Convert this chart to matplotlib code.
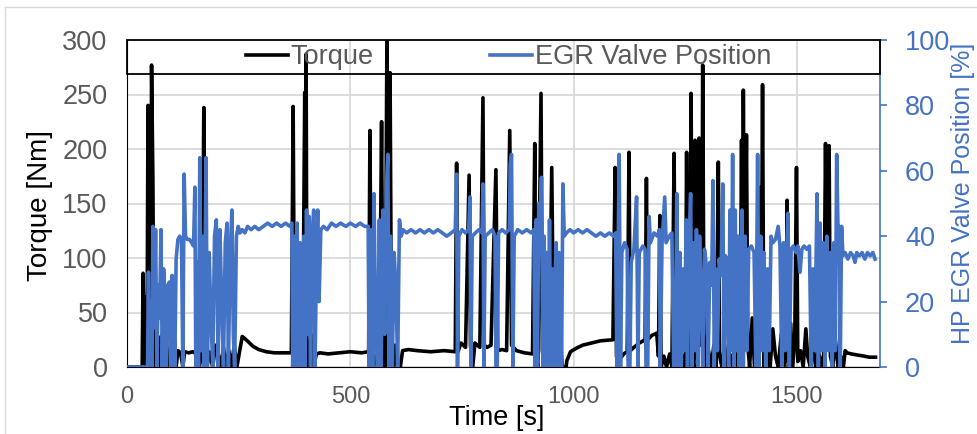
import matplotlib
matplotlib.use('Agg')
from matplotlib import pyplot as plt
from matplotlib.lines import Line2D
from matplotlib.patches import Rectangle

plt.rcParams['font.family'] = ['Liberation Sans', 'DejaVu Sans']

# Torque [Nm] as (time [s], value) points
torque_points = [
    (0, 0), (34, 0), (36, 86), (38, 20), (40, 64), (42, 0), (45, 30), (47, 240), (50, 10), (53, 40),
    (55, 277), (58, 170), (60, 25), (64, 0), (67, 30), (70, 12), (73, 0), (76, 28), (80, 15), (84, 0),
    (88, 22), (92, 10), (96, 0), (100, 18), (105, 8), (110, 0), (114, 15), (120, 13), (125, 0), (129, 14),
    (138, 13), (147, 14), (156, 12), (162, 0), (168, 15), (172, 238), (175, 10), (179, 0), (184, 14), (192, 0),
    (198, 20), (204, 12), (210, 0), (216, 18), (222, 0), (228, 15), (234, 0), (240, 20), (246, 0), (252, 14),
    (258, 28), (264, 26), (272, 23), (282, 19), (295, 16), (312, 14), (330, 13), (350, 13), (368, 13), (372, 239),
    (375, 12), (379, 0), (384, 10), (389, 0), (394, 40), (398, 252), (400, 0), (401, 287), (403, 15), (407, 0),
    (412, 30), (418, 0), (424, 12), (432, 13), (450, 12), (475, 13), (500, 14), (525, 13), (541, 14), (544, 217),
    (547, 10), (552, 0), (558, 12), (565, 0), (570, 225), (573, 10), (578, 0), (582, 305), (585, 60), (589, 270),
    (592, 40), (596, 0), (600, 20), (605, 0), (612, 0), (617, 15), (630, 16), (650, 15), (680, 14), (710, 15),
    (735, 14), (738, 187), (741, 14), (748, 22), (758, 18), (766, 176), (769, 20), (774, 0), (779, 22), (790, 18),
    (797, 247), (800, 20), (806, 18), (815, 20), (826, 181), (830, 15), (840, 16), (850, 15), (857, 217), (861, 20),
    (872, 15), (890, 13), (908, 12), (913, 205), (916, 10), (920, 0), (927, 251), (930, 15), (935, 0), (942, 30),
    (945, 0), (951, 183), (955, 30), (958, 50), (962, 40), (966, 0), (970, 20), (975, 0), (983, 0), (985, 6),
    (993, 14), (1005, 17), (1020, 20), (1040, 22), (1060, 24), (1088, 25), (1093, 183), (1096, 10), (1100, 0), (1105, 8),
    (1112, 12), (1120, 14), (1124, 197), (1127, 15), (1135, 18), (1147, 22), (1160, 25), (1163, 173), (1166, 25), (1175, 29),
    (1186, 31), (1190, 10), (1193, 139), (1196, 0), (1202, 10), (1208, 0), (1215, 12), (1220, 0), (1225, 196), (1228, 0),
    (1234, 20), (1239, 0), (1245, 10), (1250, 0), (1253, 197), (1256, 20), (1260, 0), (1263, 251), (1266, 10), (1269, 0),
    (1272, 208), (1275, 30), (1278, 0), (1281, 210), (1284, 20), (1287, 40), (1289, 277), (1292, 30), (1296, 0), (1302, 15),
    (1308, 0), (1314, 20), (1319, 0), (1324, 188), (1327, 10), (1332, 0), (1338, 20), (1344, 0), (1350, 12), (1356, 0),
    (1362, 25), (1368, 0), (1373, 15), (1376, 208), (1378, 30), (1380, 254), (1383, 40), (1387, 213), (1390, 20), (1394, 0),
    (1400, 45), (1405, 0), (1411, 20), (1417, 165), (1420, 20), (1423, 259), (1426, 0), (1432, 50), (1436, 10), (1440, 0),
    (1446, 35), (1452, 10), (1458, 0), (1465, 30), (1470, 0), (1475, 10), (1478, 153), (1481, 0), (1486, 40), (1490, 0),
    (1495, 20), (1499, 183), (1502, 5), (1508, 15), (1514, 0), (1520, 35), (1524, 10), (1530, 0), (1536, 20), (1542, 0),
    (1548, 15), (1554, 0), (1560, 12), (1564, 205), (1568, 30), (1572, 203), (1575, 10), (1580, 0), (1586, 25), (1592, 0),
    (1598, 10), (1604, 0), (1608, 15), (1612, 13), (1622, 12), (1635, 11), (1650, 10), (1662, 9), (1676, 9),
]

# HP EGR valve position [%] as (time [s], value) points
egr_points = [
    (0, 0), (46, 0), (48, 29), (50, 0), (53, 20), (56, 0), (58, 43), (61, 12), (64, 42), (67, 0),
    (70, 25), (73, 15), (76, 42), (79, 0), (82, 30), (85, 20), (88, 0), (91, 25), (95, 26), (98, 0),
    (101, 28), (104, 20), (107, 0), (110, 33), (114, 39), (118, 40), (122, 39), (125, 0), (128, 59), (131, 40),
    (135, 39), (140, 39), (145, 38), (149, 37), (152, 55), (154, 0), (157, 32), (160, 0), (163, 64), (166, 5),
    (169, 40), (172, 0), (175, 35), (177, 64), (180, 0), (184, 35), (188, 15), (192, 0), (196, 40), (200, 45),
    (204, 0), (208, 42), (212, 20), (216, 0), (220, 38), (224, 44), (227, 0), (231, 35), (235, 48), (238, 10),
    (241, 0), (245, 40), (249, 43), (253, 41), (258, 42), (264, 41), (270, 43), (278, 42), (286, 43), (295, 42),
    (305, 43), (315, 44), (325, 43), (335, 44), (345, 43), (355, 44), (365, 43), (369, 44), (371, 0), (374, 40),
    (377, 0), (381, 44), (384, 0), (388, 38), (392, 0), (396, 40), (399, 0), (402, 48), (405, 10), (408, 46),
    (411, 0), (414, 38), (418, 48), (421, 0), (424, 30), (427, 48), (430, 20), (434, 42), (440, 43), (448, 42),
    (458, 44), (468, 43), (478, 44), (490, 43), (500, 44), (512, 43), (522, 44), (532, 43), (540, 43), (542, 0),
    (546, 42), (550, 0), (553, 53), (557, 10), (561, 0), (565, 45), (569, 0), (573, 48), (577, 10), (581, 55),
    (584, 65), (587, 0), (590, 40), (594, 0), (598, 35), (602, 25), (606, 0), (610, 45), (614, 40), (618, 42),
    (626, 41), (636, 42), (646, 41), (656, 42), (666, 41), (676, 42), (686, 41), (696, 42), (706, 41), (716, 40),
    (726, 41), (735, 42), (738, 59), (740, 0), (743, 40), (750, 42), (758, 41), (765, 42), (768, 52), (770, 0),
    (773, 40), (780, 41), (788, 42), (795, 41), (797, 56), (799, 0), (802, 40), (810, 41), (818, 42), (824, 40),
    (826, 0), (829, 0), (832, 41), (840, 42), (848, 41), (856, 42), (858, 62), (861, 65), (864, 0), (867, 40),
    (875, 42), (885, 41), (895, 42), (905, 41), (911, 42), (913, 0), (916, 45), (919, 0), (922, 50), (925, 42),
    (928, 58), (931, 0), (934, 40), (937, 0), (940, 35), (943, 0), (946, 45), (949, 0), (952, 30), (955, 0),
    (958, 25), (961, 38), (964, 0), (967, 35), (970, 28), (973, 0), (976, 56), (979, 40), (984, 41), (992, 42),
    (1000, 41), (1010, 42), (1020, 41), (1030, 42), (1040, 41), (1050, 40), (1060, 41), (1070, 40), (1080, 41), (1090, 40),
    (1094, 41), (1097, 0), (1100, 40), (1102, 65), (1105, 0), (1108, 35), (1114, 38), (1120, 36), (1122, 0), (1126, 0),
    (1129, 32), (1135, 36), (1141, 52), (1144, 0), (1147, 35), (1155, 37), (1160, 36), (1162, 0), (1166, 0), (1169, 46),
    (1172, 38), (1180, 41), (1188, 40), (1192, 42), (1194, 0), (1198, 38), (1204, 52), (1207, 38), (1214, 40), (1220, 41),
    (1224, 0), (1228, 0), (1231, 53), (1234, 0), (1238, 35), (1241, 0), (1245, 30), (1248, 5), (1252, 45), (1255, 0),
    (1259, 40), (1262, 53), (1265, 0), (1268, 38), (1271, 5), (1275, 42), (1278, 0), (1282, 40), (1286, 20), (1289, 0),
    (1293, 36), (1298, 30), (1301, 0), (1305, 32), (1309, 25), (1312, 57), (1315, 0), (1318, 30), (1322, 5), (1326, 33),
    (1330, 28), (1334, 56), (1337, 0), (1340, 34), (1344, 30), (1347, 0), (1350, 48), (1353, 5), (1356, 65), (1359, 0),
    (1362, 48), (1365, 5), (1368, 40), (1371, 0), (1374, 30), (1377, 48), (1380, 0), (1384, 40), (1388, 5), (1392, 36),
    (1398, 37), (1404, 35), (1408, 0), (1412, 65), (1415, 0), (1419, 40), (1422, 5), (1426, 35), (1430, 0), (1434, 30),
    (1438, 5), (1442, 40), (1446, 38), (1452, 39), (1458, 43), (1462, 37), (1466, 0), (1470, 38), (1474, 5), (1478, 40),
    (1480, 47), (1483, 0), (1487, 36), (1492, 37), (1498, 35), (1502, 37), (1507, 29), (1511, 36), (1516, 37), (1522, 36),
    (1528, 37), (1532, 0), (1536, 30), (1540, 5), (1545, 53), (1548, 0), (1552, 44), (1555, 5), (1559, 38), (1563, 0),
    (1567, 40), (1571, 5), (1575, 35), (1579, 0), (1583, 38), (1586, 5), (1589, 65), (1592, 42), (1595, 43), (1597, 0),
    (1600, 43), (1603, 34), (1608, 35), (1614, 33), (1620, 35), (1626, 34), (1630, 32), (1634, 35), (1640, 34), (1646, 35),
    (1652, 33), (1658, 35), (1664, 34), (1670, 35), (1675, 33),
]

x_ticks = [0, 500, 1000, 1500]
torque_ticks = [0, 50, 100, 150, 200, 250, 300]
egr_ticks = [0, 20, 40, 60, 80, 100]

BLUE = '#4472C4'
GREY_TXT = '#595959'
GRID = '#D9D9D9'

t_torque = [p[0] for p in torque_points]
v_torque = [p[1] for p in torque_points]
t_egr = [p[0] for p in egr_points]
v_egr = [p[1] for p in egr_points]

fig = plt.figure(figsize=(9.78, 4.34), dpi=100)
ax = fig.add_axes([127 / 978, 1 - 367 / 434, 753 / 978, 327 / 434])
ax2 = ax.twinx()

# data
ax.plot(t_torque, v_torque, color='black', linewidth=2.6)
ax2.plot(t_egr, v_egr, color=BLUE, linewidth=2.6)

# scales
ax.set_xlim(0, 1686)
ax.set_ylim(0, 300)
ax2.set_ylim(0, 100)
ax.set_xticks(x_ticks)
ax.set_yticks(torque_ticks)
ax2.set_yticks(egr_ticks)

ax.grid(True, color=GRID, linewidth=1.3)
ax.set_axisbelow(True)

# spines and ticks
for s in ['top', 'right']:
    ax.spines[s].set_visible(False)
ax.spines['left'].set_color('black')
ax.spines['bottom'].set_color('black')
for s in ['top', 'left', 'bottom']:
    ax2.spines[s].set_visible(False)
ax2.spines['right'].set_color(BLUE)
ax2.spines['right'].set_linewidth(1.2)

ax.tick_params(axis='both', length=0, labelcolor=GREY_TXT)
ax.tick_params(axis='x', labelsize=17, pad=14)
ax.tick_params(axis='y', labelsize=19.5, pad=14)
ax2.tick_params(axis='y', length=5, width=1.2, color=BLUE, labelcolor=BLUE,
                labelsize=19.5, pad=13)

ax.set_xlabel('Time [s]', fontsize=19.5, color='black')
ax.set_ylabel('Torque [Nm]', fontsize=20, color='black')
ax2.set_ylabel('HP EGR Valve Position [%]', fontsize=18, color=BLUE)
ax.xaxis.set_label_coords(0.491, -0.116)
ax.yaxis.set_label_coords(-0.098, 0.495)
ax2.yaxis.set_label_coords(1.094, 0.53)

# legend box across the top of the plot area
box = Rectangle((0, 0.896), 1, 0.104, transform=ax2.transAxes, fill=False,
                edgecolor='black', linewidth=1.3, clip_on=False, zorder=5)
ax2.add_patch(box)
handles = [Line2D([], [], color='black', linewidth=2.6),
           Line2D([], [], color=BLUE, linewidth=2.6)]
leg = ax2.legend(handles, ['Torque', 'EGR Valve Position'], loc='center',
                 bbox_to_anchor=(0.507, 0.948), ncol=2, frameon=False,
                 fontsize=19.5, handlelength=1.55, handletextpad=0.1,
                 columnspacing=4.3, borderpad=0)
for txt in leg.get_texts():
    txt.set_color(GREY_TXT)

# chart-area border
fig.add_artist(Line2D([5 / 978, 5 / 978], [0, 1 - 7 / 434], color=GRID, linewidth=1))
fig.add_artist(Line2D([5 / 978, 1], [1 - 7 / 434, 1 - 7 / 434], color=GRID, linewidth=1))

fig.savefig('out.png', dpi=100)
